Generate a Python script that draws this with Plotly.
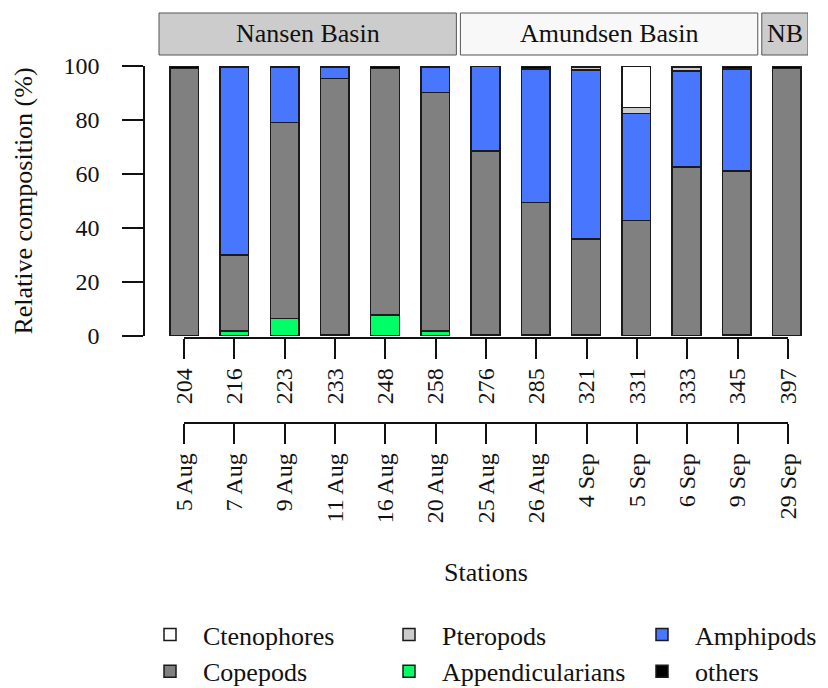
import plotly.graph_objects as go

# Stations, sampling dates and basin grouping
stations = ["204", "216", "223", "233", "248", "258", "276", "285", "321", "331", "333", "345", "397"]
dates = ["5 Aug", "7 Aug", "9 Aug", "11 Aug", "16 Aug", "20 Aug", "25 Aug", "26 Aug",
         "4 Sep", "5 Sep", "6 Sep", "9 Sep", "29 Sep"]
basins = ["Nansen Basin", "Amundsen Basin", "NB"]
basin_first = [0, 6, 12]
basin_last = [5, 11, 12]
basin_fill = ["#cccccc", "#f8f8f8", "#cccccc"]

# Relative composition (%) per station, stacked bottom to top
appendicularians = [0.0, 1.8, 6.5, 0.3, 7.8, 1.8, 0.3, 0.3, 0.5, 0.2, 0.2, 0.4, 0.2]
copepods = [99.0, 28.2, 72.5, 95.0, 91.2, 88.4, 68.3, 49.1, 35.4, 42.5, 62.4, 60.8, 98.9]
amphipods = [0.0, 69.5, 20.7, 4.4, 0.0, 9.3, 31.2, 49.4, 62.6, 39.8, 35.5, 37.7, 0.0]
pteropods = [0.0, 0.0, 0.0, 0.0, 0.0, 0.0, 0.0, 0.0, 1.0, 2.2, 1.5, 0.0, 0.0]
ctenophores = [0.0, 0.0, 0.0, 0.0, 0.0, 0.0, 0.0, 0.0, 0.0, 15.3, 0.0, 0.0, 0.0]
others = [1.0, 0.5, 0.3, 0.3, 1.0, 0.5, 0.2, 1.2, 0.5, 0.0, 0.4, 1.1, 0.9]

FONT = "Liberation Serif"
W, H = 828, 688
idx = list(range(len(stations)))

def px_x(p):
    return p / W

def px_y(p):
    return 1 - p / H

fig = go.Figure()

# name, values, colour, legend, rank within legend
series = [
    ("Appendicularians", appendicularians, "#00ff66", "legend2", 2),
    ("Copepods", copepods, "#808080", "legend", 2),
    ("Amphipods", amphipods, "#4876ff", "legend3", 1),
    ("Pteropods", pteropods, "#cccccc", "legend2", 1),
    ("Ctenophores", ctenophores, "#ffffff", "legend", 1),
    ("others", others, "#000000", "legend3", 2),
]
for name, vals, col, leg, rank in series:
    fig.add_trace(go.Bar(
        x=idx, y=[v if v > 0 else None for v in vals], name=name,
        width=0.57, marker=dict(color=col, line=dict(color="#1a1a1a", width=1.5)),
        legend=leg, legendrank=rank, hoverinfo="skip",
    ))

# invisible carriers for the two label axes
for ax in ("x2", "x3"):
    fig.add_trace(go.Scatter(x=idx, y=[0] * len(idx), xaxis=ax, yaxis="y", mode="markers",
                             marker=dict(opacity=0), showlegend=False, hoverinfo="skip"))

# basin header boxes
for name, a, b, fc in zip(basins, basin_first, basin_last, basin_fill):
    fig.add_shape(type="rect", xref="x", yref="paper", x0=a - 0.5, x1=b + 0.42,
                  y0=px_y(55), y1=px_y(13), fillcolor=fc, line=dict(color="#555555", width=1))
    fig.add_annotation(xref="x", yref="paper", x=(a - 0.5 + b + 0.42) / 2, y=px_y(34),
                       xanchor="center", yanchor="middle",
                       text=name, showarrow=False, font=dict(family=FONT, size=26, color="#111111"))

tick_font = dict(family=FONT, size=24, color="#111111")
label_axis = dict(domain=[px_x(184), px_x(788)], range=[0, 12], anchor="free",
                  tickmode="array", tickvals=idx, ticks="outside", ticklen=20, tickwidth=1.5,
                  tickcolor="#111111", showline=True, linewidth=1.5, linecolor="#111111",
                  tickangle=-90, showgrid=False, zeroline=False, tickfont=tick_font, fixedrange=True)

fig.update_layout(
    width=W, height=H, margin=dict(l=0, r=0, t=0, b=0, autoexpand=False),
    paper_bgcolor="white", plot_bgcolor="rgba(0,0,0,0)", barmode="stack",
    font=dict(family=FONT, color="#111111"),
    xaxis=dict(domain=[px_x(157), px_x(808)], range=[-0.54, 12.42], visible=False, fixedrange=True),
    xaxis2=dict(label_axis, position=px_y(338), ticktext=stations),
    xaxis3=dict(label_axis, position=px_y(423), ticktext=dates,
                title=dict(text="Stations", font=dict(family=FONT, size=26), standoff=39)),
    yaxis=dict(domain=[px_y(336), px_y(66)], range=[0, 100], anchor="free", position=px_x(144),
               tickvals=[0, 20, 40, 60, 80, 100], ticks="outside", ticklen=21, tickwidth=1.5,
               tickcolor="#111111", showline=True, linewidth=1.5, linecolor="#111111",
               showgrid=False, zeroline=False, tickfont=tick_font, ticklabelstandoff=18,
               title=dict(text="Relative composition (%)", font=dict(family=FONT, size=26), standoff=22),
               fixedrange=True),
)

leg_common = dict(orientation="v", xanchor="left", yanchor="top", bgcolor="rgba(0,0,0,0)",
                  font=dict(family=FONT, size=26, color="#111111"), itemwidth=56,
                  traceorder="normal", tracegroupgap=0, itemclick=False, itemdoubleclick=False)
fig.update_layout(
    legend=dict(leg_common, x=px_x(137), y=px_y(611)),
    legend2=dict(leg_common, x=px_x(376), y=px_y(611)),
    legend3=dict(leg_common, x=px_x(629), y=px_y(611)),
)

fig.write_html("out.html")
